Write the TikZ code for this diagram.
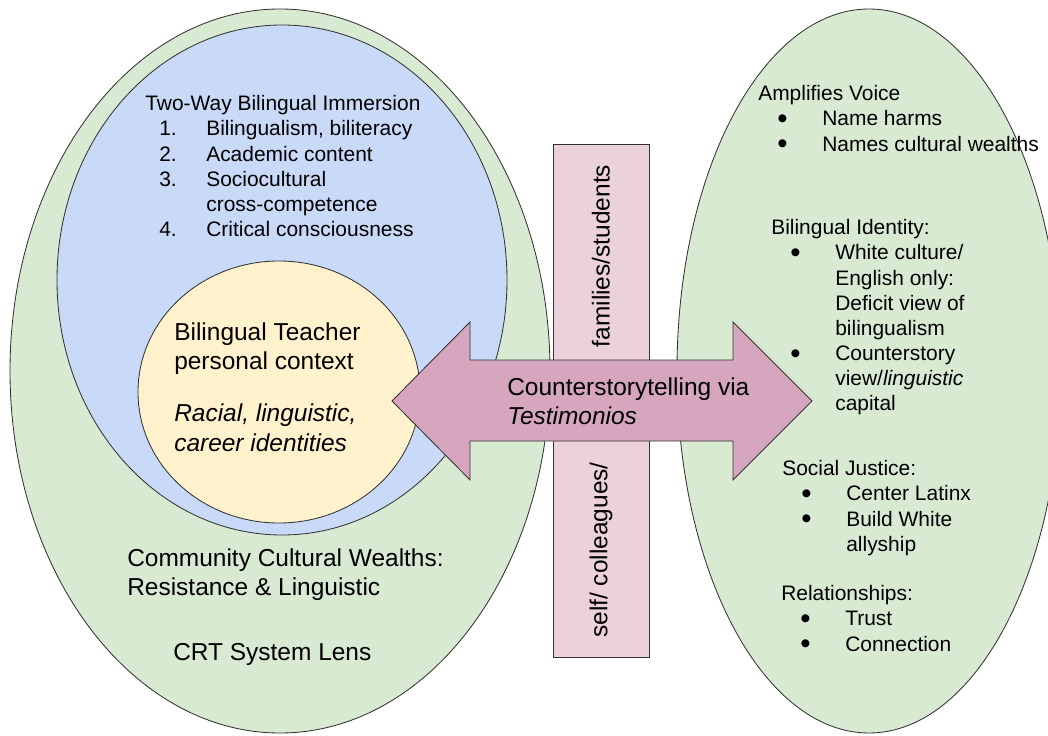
\documentclass[tikz,border=0pt]{standalone}
\usepackage{fontspec}
\setmainfont{Liberation Sans}

\definecolor{wealthgreen}{HTML}{D9EAD3}
\definecolor{twowayblue}{HTML}{C9DAF8}
\definecolor{teacheryellow}{HTML}{FFF2CC}
\definecolor{storypink}{HTML}{D5A6BD}
\definecolor{audiencepink}{HTML}{EAD1DC}
\definecolor{edge}{HTML}{333333}

\tikzset{
  outlined/.style={draw=edge, line width=0.6pt},
  smalltext/.style={font=\fontsize{14.9}{17.8}\selectfont, inner sep=0pt, align=left, anchor=north west},
  bigtext/.style={font=\fontsize{17.4}{21}\selectfont, inner sep=0pt, align=left, anchor=north west}
}

\newcommand{\bigdot}{\smash{\raisebox{-0.14em}{\scalebox{1.4}{\textbullet}}}}
\newcommand{\bulletline}[1]{\hspace*{0.48cm}\makebox[1.12cm][l]{\bigdot}#1}
\newcommand{\moreline}[1]{\hspace*{1.6cm}#1}
\newcommand{\numline}[2]{\hspace*{0.35cm}\makebox[1.175cm][l]{#1}#2}
\newcommand{\numcont}[1]{\hspace*{1.525cm}#1}

\begin{document}
\begin{tikzpicture}[x=0.025cm,y=-0.025cm]
\useasboundingbox (0,0) rectangle (1048,736);
\clip (0,0) rectangle (1048,736);

\draw[outlined, fill=wealthgreen]   (280,371) ellipse (270 and 362);
\draw[outlined, fill=twowayblue]    (282,280) ellipse (225 and 255);
\draw[outlined, fill=teacheryellow] (279,392) ellipse (141 and 131);
\draw[outlined, fill=wealthgreen]   (869,371) ellipse (192 and 362);

\node[outlined, fill=audiencepink, minimum width=2.4cm, minimum height=12.825cm, inner sep=0pt] (audience) at (601,400.5) {};
\node[bigtext, anchor=center, rotate=90] (families) at (601,256) {families/students};
\node[bigtext, anchor=center, rotate=90] (self)     at (601,550) {self/ colleagues/};

\draw[outlined, fill=storypink] (392,401) -- (470,322) -- (470,360) -- (733,360) -- (733,322)
  -- (812,401) -- (733,480) -- (733,441) -- (470,441) -- (470,480) -- cycle;

\node[smalltext] (immersion) at (145,95.5) {Two-Way Bilingual Immersion\\
  \numline{1.}{Bilingualism, biliteracy}\\
  \numline{2.}{Academic content}\\
  \numline{3.}{Sociocultural}\\
  \numcont{cross-competence}\\
  \numline{4.}{Critical consciousness}};

\node[bigtext] (teacher) at (174,322) {Bilingual Teacher\\
  personal context\\[0.56cm]
  \textit{Racial, linguistic,}\\
  \textit{career identities}};

\node[bigtext] (wealths) at (127,548) {Community Cultural Wealths:\\ Resistance \& Linguistic};
\node[bigtext] (crt)     at (173,643) {CRT System Lens};

\node[bigtext] (story) at (507,377) {Counterstorytelling via\\ \textit{Testimonios}};

\node[smalltext] (voice) at (758,85.5) {Amplifies Voice\\
  \bulletline{Name harms}\\
  \bulletline{Names cultural wealths}};

\node[smalltext] (identity) at (771,219.5) {Bilingual Identity:\\
  \bulletline{White culture/}\\
  \moreline{English only:}\\
  \moreline{Deficit view of}\\
  \moreline{bilingualism}\\
  \bulletline{Counterstory}\\
  \moreline{view/\textit{linguistic}}\\
  \moreline{capital}};

\node[smalltext] (justice) at (782,460.5) {Social Justice:\\
  \bulletline{Center Latinx}\\
  \bulletline{Build White}\\
  \moreline{allyship}};

\node[smalltext] (relations) at (781,585.5) {Relationships:\\
  \bulletline{Trust}\\
  \bulletline{Connection}};

\end{tikzpicture}
\end{document}
